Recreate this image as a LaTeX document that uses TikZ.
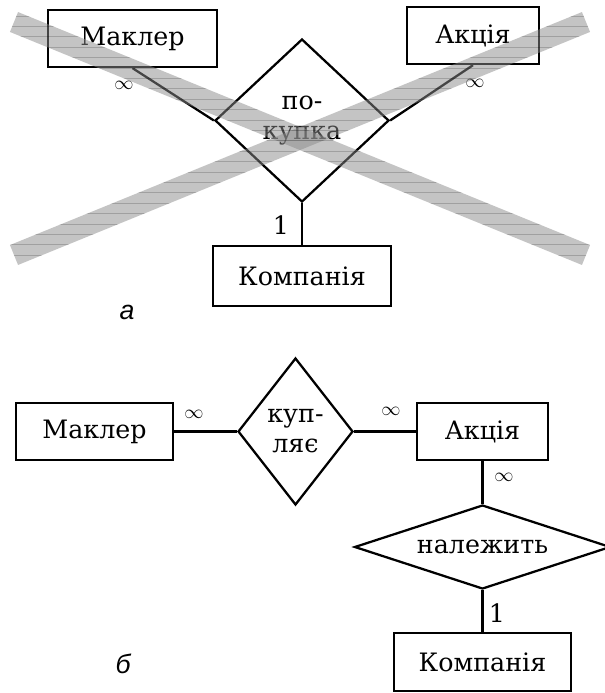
\documentclass[tikz,border=0pt]{standalone}
\usepackage{fontspec}
\setmainfont{DejaVu Serif}
\newfontfamily\captionsans{Liberation Sans}
\usetikzlibrary{shapes.geometric}
\begin{document}
\begin{tikzpicture}[x=0.75pt,y=-0.75pt,
  every node/.style={font=\fontsize{19}{22.5}\selectfont},
  entity/.style={draw, line width=1.7pt, inner sep=0pt},
  relation/.style={draw, diamond, line width=1.7pt, inner sep=0pt, align=center},
  link/.style={line width=1.7pt},
  many/.style={font=\fontsize{15}{17}\selectfont, inner sep=0pt},
  one/.style={inner sep=0pt},
  sublabel/.style={font=\captionsans\itshape\fontsize{20}{24}\selectfont, inner sep=0pt},
  band/.style={fill=black!46, fill opacity=0.5, draw=none},
  bandline/.style={draw=black, opacity=0.18, line width=0.6pt}]
\useasboundingbox (0,0) rectangle (605,693);

% ---------- (a) ternary relationship ----------
\node[entity, minimum width=126.75pt, minimum height=42.75pt] (brokerA) at (132.5,38.5) {Маклер};
\node[entity, minimum width=99pt, minimum height=42.75pt] (shareA) at (473,35.5) {Акція};
\node[entity, minimum width=133.5pt, minimum height=45pt] (companyA) at (302,276) {Компанія};
\node[relation, minimum width=130.5pt, minimum height=122.25pt] (buyA) at (302,120.5) {по-\\купка};

\draw[link] (brokerA.south) -- (buyA.west);
\draw[link] (shareA.south) -- (buyA.east);
\draw[link] (buyA.south) -- (companyA.north);

\node[many] (mA1) at (124,85) {$\infty$};
\node[many] (mA2) at (475,83) {$\infty$};
\node[one] (oA) at (281,225) {1};
\node[sublabel] (labA) at (127,312) {а};

% crossing-out bands
\fill[band] (18.05,12.05) -- (590.05,245.05) -- (581.95,264.95) -- (9.95,31.95) -- cycle;
\begin{scope}
  \clip (18.05,12.05) -- (590.05,245.05) -- (581.95,264.95) -- (9.95,31.95) -- cycle;
  \foreach \k in {0,...,26} \draw[bandline] (0,{5.5+10.4*\k}) -- (605,{5.5+10.4*\k});
\end{scope}
\fill[band] (18.05,264.95) -- (590.05,31.95) -- (581.95,12.05) -- (9.95,245.05) -- cycle;
\begin{scope}
  \clip (18.05,264.95) -- (590.05,31.95) -- (581.95,12.05) -- (9.95,245.05) -- cycle;
  \foreach \k in {0,...,26} \draw[bandline] (0,{5.5+10.4*\k}) -- (605,{5.5+10.4*\k});
\end{scope}

% ---------- (b) two binary relationships ----------
\node[entity, minimum width=117.75pt, minimum height=42.75pt] (brokerB) at (94.5,431.5) {Маклер};
\node[entity, minimum width=98.25pt, minimum height=42.75pt] (shareB) at (482.5,431.5) {Акція};
\node[entity, minimum width=132.75pt, minimum height=43.5pt] (companyB) at (482.5,662) {Компанія};
\node[relation, minimum width=86.25pt, minimum height=110.25pt] (buyB) at (295.5,431.5) {куп-\\ляє};
\node[relation, aspect=3, minimum width=192pt, minimum height=63pt] (ownB) at (482.5,547) {належить};

\draw[link] (brokerB.east) -- (buyB.west);
\draw[link] (buyB.east) -- (shareB.west);
\draw[link] (shareB.south) -- (ownB.north);
\draw[link] (ownB.south) -- (companyB.north);

\node[many] (mB1) at (194,414) {$\infty$};
\node[many] (mB2) at (391,411) {$\infty$};
\node[many] (mB3) at (504,477) {$\infty$};
\node[one] (oB) at (497,613) {1};
\node[sublabel] (labB) at (123,664) {б};
\end{tikzpicture}
\end{document}
